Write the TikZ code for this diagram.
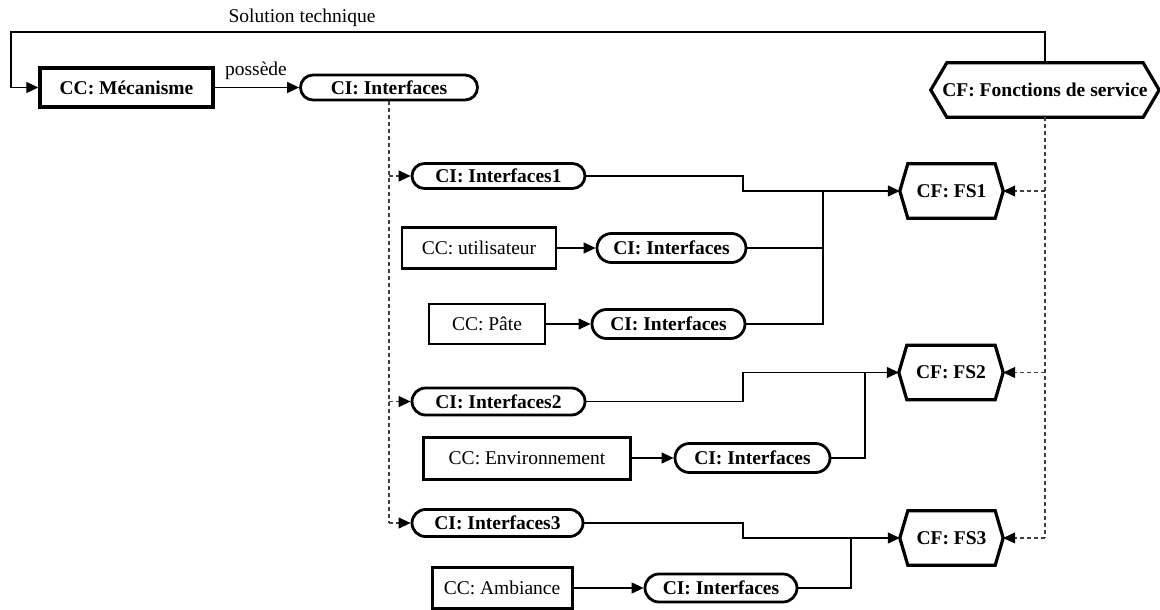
\documentclass[tikz,border=0pt]{standalone}
\usepackage{fontspec}
\setmainfont{Liberation Serif}
\usetikzlibrary{arrows.meta,shapes.misc}
\newcommand\hexout[2]{\draw[hexline] ([xshift=#2]#1.north west) -- ([xshift=-#2]#1.north east) -- (#1.east) -- ([xshift=-#2]#1.south east) -- ([xshift=#2]#1.south west) -- (#1.west) -- cycle;}
\begin{document}
\begin{tikzpicture}[x=1pt,y=-1pt,
  every node/.style={font=\fontsize{19.5}{22}\selectfont, inner sep=0pt},
  ccbox/.style={draw, rectangle, line width=3pt},
  ccthin/.style={draw, rectangle, line width=2.4pt},
  cibox/.style={draw, rounded rectangle, line width=2.8pt, font=\fontsize{19.5}{22}\selectfont\bfseries},
  cfbox/.style={font=\fontsize{19.5}{22}\selectfont\bfseries},
  hexline/.style={line width=3.2pt, line join=miter},
  conn/.style={line width=1.3pt, -{Triangle[length=12pt,width=11pt]}},
  link/.style={line width=1.3pt},
  busline/.style={line width=1.1pt, dash pattern=on 4pt off 3pt, draw=black!75},
  busarrow/.style={busline, -{Triangle[length=12pt,width=11pt,color=black]}}
]
\useasboundingbox (0,0) rectangle (1160,610);

% top row
\node (title) at (302,18) {Solution technique};
\node[ccbox, line width=3.4pt, minimum width=173pt, minimum height=39pt, font=\fontsize{19.5}{22}\selectfont\bfseries] (mech) at (126.5,87.5) {CC: Mécanisme};
\node[cibox, minimum width=177pt, minimum height=25pt] (ci0) at (389,87.5) {CI: Interfaces};
\node (pos) at (256,71) {possède};
\node[cfbox, minimum width=228pt, minimum height=54pt] (cf0) at (1045,90) {CF: Fonctions de service};
\hexout{cf0}{16pt}

% group 1
\node[cibox, minimum width=173pt, minimum height=25pt] (ci1) at (498.5,176) {CI: Interfaces1};
\node[ccthin, minimum width=154pt, minimum height=41pt] (ccU) at (479,248) {CC: utilisateur};
\node[cibox, minimum width=149pt, minimum height=29pt] (ciU) at (671.5,248) {CI: Interfaces};
\node[ccthin, minimum width=116pt, minimum height=40pt] (ccP) at (487,324) {CC: Pâte};
\node[cibox, minimum width=153pt, minimum height=29pt] (ciP) at (668.5,324) {CI: Interfaces};
\node[cfbox, minimum width=103pt, minimum height=54pt] (cf1) at (951.5,191) {CF: FS1};
\hexout{cf1}{8pt}

% group 2
\node[cibox, minimum width=173pt, minimum height=27pt] (ci2) at (498.5,401.5) {CI: Interfaces2};
\node[ccbox, minimum width=207pt, minimum height=42pt] (ccE) at (527,458) {CC: Environnement};
\node[cibox, minimum width=155pt, minimum height=29pt] (ciE) at (752.5,458) {CI: Interfaces};
\node[cfbox, minimum width=104pt, minimum height=54pt] (cf2) at (951,372.5) {CF: FS2};
\hexout{cf2}{8pt}

% group 3
\node[cibox, minimum width=171pt, minimum height=27pt] (ci3) at (497.5,523) {CI: Interfaces3};
\node[ccbox, minimum width=140pt, minimum height=41pt] (ccA) at (502,588) {CC: Ambiance};
\node[cibox, minimum width=152pt, minimum height=28pt] (ciA) at (721,588) {CI: Interfaces};
\node[cfbox, minimum width=103pt, minimum height=54pt] (cf3) at (951.5,538) {CF: FS3};
\hexout{cf3}{8pt}

% helper coordinates
\coordinate (topL) at (11,32);
\coordinate (jx) at (743,0);
\coordinate (j1) at (823,0);
\coordinate (j2) at (865,0);
\coordinate (j3) at (851,0);

% feedback and top link
\draw[conn] (cf0.north) |- (topL) |- (mech.west);
\draw[conn] (mech.east) -- (ci0.west);

% left dashed bus
\draw[busline] (ci0.south) -- (ci0.south |- ci3.west);
\draw[busarrow] (ci0.south |- ci1.west) -- (ci1.west);
\draw[busarrow] (ci0.south |- ci2.west) -- (ci2.west);
\draw[busarrow] (ci0.south |- ci3.west) -- (ci3.west);

% right dashed bus
\draw[busline] (cf0.south) -- (cf0.south |- cf3.east);
\draw[busarrow] (cf0.south |- cf1.east) -- (cf1.east);
\draw[busarrow] (cf0.south |- cf2.east) -- (cf2.east);
\draw[busarrow] (cf0.south |- cf3.east) -- (cf3.east);

% group 1 links
\draw[conn] (ccU.east) -- (ciU.west);
\draw[conn] (ccP.east) -- (ciP.west);
\draw[conn] (ci1.east) -- (ci1.east -| jx) |- (cf1.west);
\draw[link] (ciU.east) -| (j1 |- cf1.west);
\draw[link] (ciP.east) -| (j1 |- cf1.west);

% group 2 links
\draw[conn] (ccE.east) -- (ciE.west);
\draw[conn] (ci2.east) -- (ci2.east -| jx) |- (cf2.west);
\draw[link] (ciE.east) -| (j2 |- cf2.west);

% group 3 links
\draw[conn] (ccA.east) -- (ciA.west);
\draw[conn] (ci3.east) -- (ci3.east -| jx) |- (cf3.west);
\draw[link] (ciA.east) -| (j3 |- cf3.west);
\end{tikzpicture}
\end{document}
